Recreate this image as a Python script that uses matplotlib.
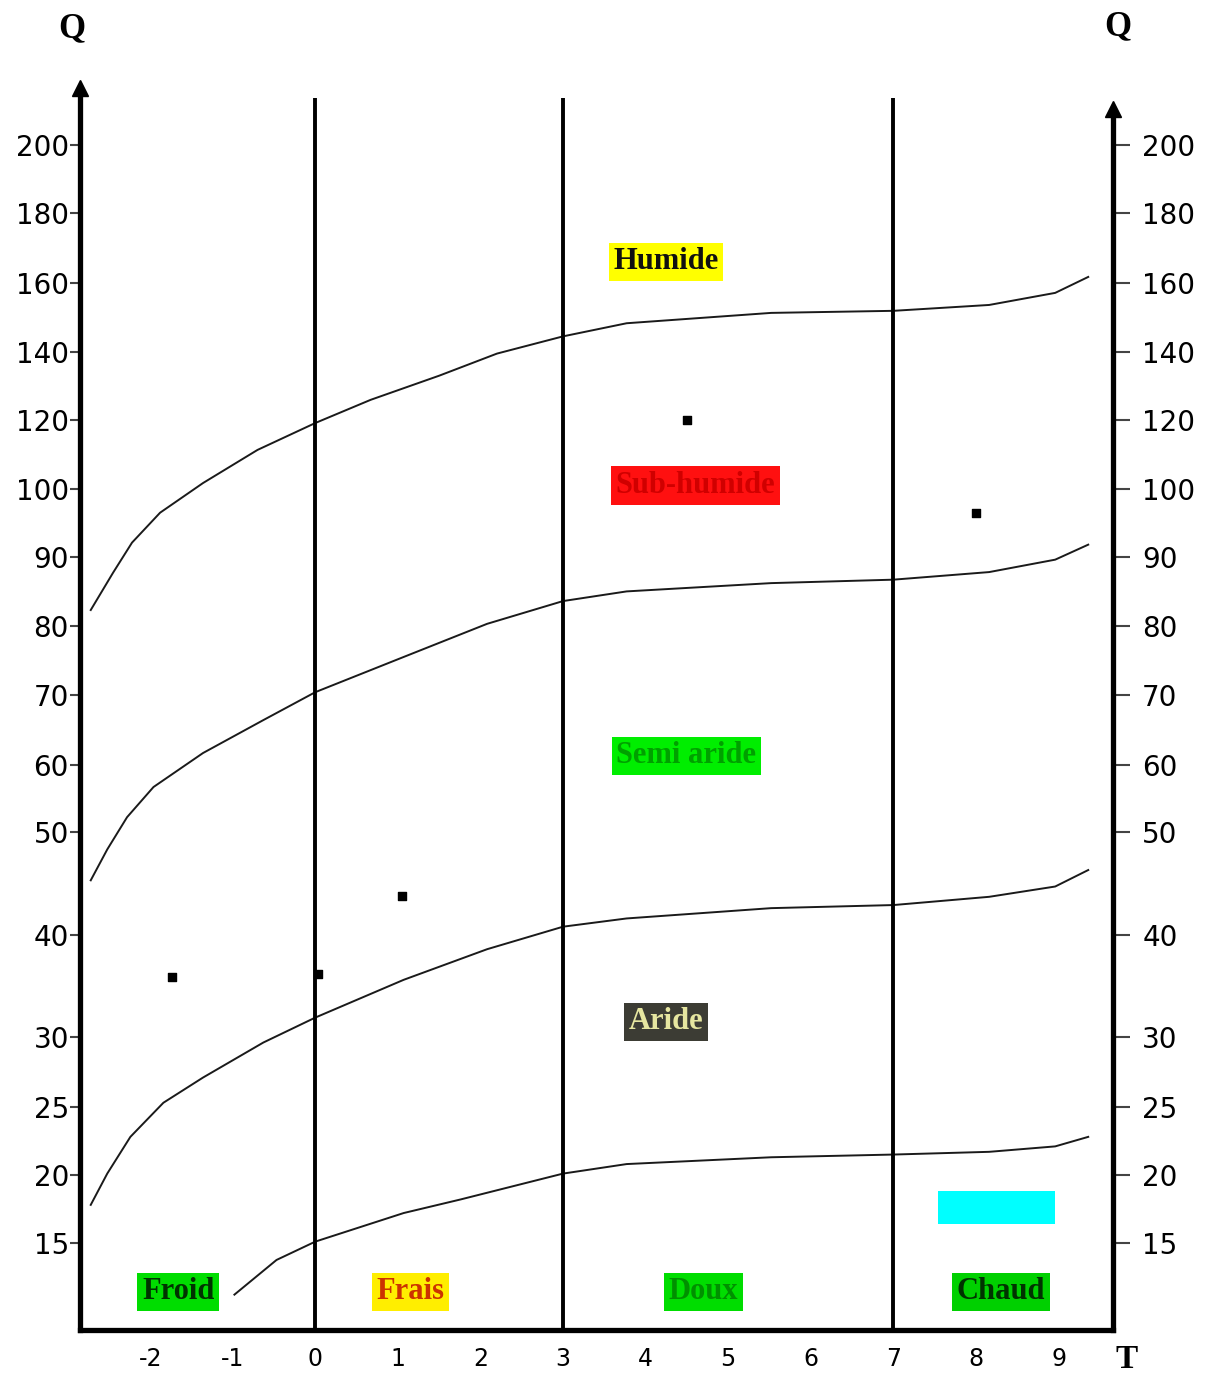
import numpy as np
import matplotlib
matplotlib.use("Agg")
import matplotlib.pyplot as plt

# Climagramme d'Emberger : quotient pluviothermique Q en fonction de T (m, °C)

q_ticks = [15, 20, 25, 30, 40, 50, 60, 70, 80, 90, 100, 120, 140, 160, 180, 200]
t_ticks = [-2, -1, 0, 1, 2, 3, 4, 5, 6, 7, 8, 9]
t_tick_labels = ["-2", "-1", "0", "1", "2", "3", "4", "5", "6", "7", "8", "9"]

# limites entre étages bioclimatiques
lim_humide_t = [-2.72, -2.45, -2.22, -1.88, -1.36, -0.70, 0.0, 0.67, 1.5, 2.2,
                3.0, 3.77, 5.52, 7.0, 8.16, 8.96, 9.36]
lim_humide_q = [82.3, 87.7, 92.1, 96.5, 101.7, 111.3, 119.1, 125.9, 133, 139.5,
                144.5, 148.3, 151.3, 151.9, 153.6, 157.1, 161.7]

lim_subhumide_t = [-2.72, -2.52, -2.28, -1.96, -1.36, -0.63, 0.0, 1.07, 2.08,
                   3.0, 3.77, 5.52, 7.0, 8.16, 8.96, 9.36]
lim_subhumide_q = [45.3, 48.3, 52.2, 56.7, 61.7, 66.4, 70.4, 75.5, 80.3,
                   83.6, 85.0, 86.2, 86.7, 87.8, 89.6, 91.8]

lim_semiaride_t = [-2.72, -2.52, -2.24, -1.84, -1.36, -0.63, 0.0, 1.07, 2.08,
                   3.0, 3.77, 5.52, 7.0, 8.16, 8.96, 9.36]
lim_semiaride_q = [17.8, 20.1, 22.8, 25.3, 27.1, 29.6, 31.9, 35.6, 38.6,
                   40.8, 41.6, 42.6, 42.9, 43.7, 44.7, 46.3]

lim_aride_t = [-0.98, -0.47, 0.0, 1.07, 1.76, 3.0, 3.77, 5.52, 7.0, 8.16, 8.96, 9.36]
lim_aride_q = [11.2, 13.75, 15.1, 17.2, 18.2, 20.1, 20.8, 21.3, 21.5, 21.7, 22.1, 22.8]

# limites des variantes thermiques
variantes_t = [0, 3, 7]

# stations
stations_t = [4.5, 8.0, 1.05, -1.74, 0.03]
stations_q = [120, 96.5, 43.8, 35.9, 36.2]

# étiquettes des étages
etages = ["Humide", "Sub-humide", "Semi aride", "Aride"]
etages_t = [4.25, 4.6, 4.49, 4.25]
etages_q = [166, 101, 61.3, 31.5]
etages_fond = ["#ffff00", "#ff1010", "#00ee00", "#3c3c34"]
etages_texte = ["#101010", "#d00000", "#00a000", "#e6e6a0"]

# étiquettes des variantes
variantes = ["Froid", "Frais", "Doux", "Chaud"]
variantes_lt = [-1.66, 1.15, 4.7, 8.3]
variantes_fond = ["#00dd00", "#ffee00", "#00dd00", "#00d000"]
variantes_texte = ["#003300", "#cc3300", "#009000", "#003300"]

# échelle de Q irrégulière (graduations non proportionnelles)
echelle_q = [0, 15, 20, 25, 30, 40, 50, 60, 70, 80, 90, 100, 120, 140, 160, 180, 200, 300]
echelle_px = [1447, 1243, 1175, 1107, 1037, 935, 832, 765, 695, 626, 557, 489,
              420, 352, 283, 213, 145, -200]
echelle_pos = [1330 - p for p in echelle_px]


def vers_echelle(q):
    return np.interp(q, echelle_q, echelle_pos)


def depuis_echelle(p):
    return np.interp(p, echelle_pos, echelle_q)


fig = plt.figure(figsize=(12.06, 13.74), dpi=100)
ax = fig.add_axes([80 / 1206, 44 / 1374, 1033 / 1206, 1250 / 1374])
ax.set_yscale("function", functions=(vers_echelle, depuis_echelle))
q_bas, q_haut = 8.6, 218.8
ax.set_ylim(q_bas, q_haut)
ax.set_xlim(-2.85, 9.66)

for t, q in [(lim_humide_t, lim_humide_q), (lim_subhumide_t, lim_subhumide_q),
             (lim_semiaride_t, lim_semiaride_q), (lim_aride_t, lim_aride_q)]:
    ax.plot(t, q, color="#1a1a1a", linewidth=1.4, zorder=2,
            solid_joinstyle="round")

ax.scatter(stations_t, stations_q, marker="s", s=36, color="black", zorder=2)
ax.vlines(variantes_t, q_bas, 213.5, color="black", linewidth=2.8, zorder=3)

for nom, t, q, fond, coul in zip(etages, etages_t, etages_q, etages_fond, etages_texte):
    ax.text(t, q, nom, ha="center", va="center", fontsize=22, fontweight="bold",
            family="Liberation Serif", color=coul, zorder=4,
            bbox=dict(boxstyle="square,pad=0.15", facecolor=fond, edgecolor="none"))

for nom, t, fond, coul in zip(variantes, variantes_lt, variantes_fond, variantes_texte):
    ax.text(t, 11.4, nom, ha="center", va="center", fontsize=22, fontweight="bold",
            family="Liberation Serif", color=coul, zorder=4,
            bbox=dict(boxstyle="square,pad=0.15", facecolor=fond, edgecolor="none"))

# case vide (cyan)
ax.text(8.25, 17.6, "\u2003" * 4, ha="center", va="center", fontsize=20,
        zorder=4, bbox=dict(boxstyle="square,pad=0.1", facecolor="#00ffff", edgecolor="none"))

# axes
for s in ["top", "right"]:
    ax.spines[s].set_visible(False)
ax.spines["left"].set_linewidth(3.8)
ax.spines["left"].set_bounds(q_bas, 215.5)
ax.spines["bottom"].set_linewidth(3.8)
ax.plot(0, 216.5, marker="^", markersize=11, color="black",
        transform=ax.get_yaxis_transform(), clip_on=False, zorder=5)

ax.set_xticks(t_ticks)
ax.set_xticklabels(t_tick_labels)
ax.tick_params(axis="x", length=0, pad=12, labelsize=17)
ax.set_yticks(q_ticks)
ax.set_yticklabels([str(v) for v in q_ticks])
ax.tick_params(axis="y", direction="out", length=7, width=1.5, pad=1, labelsize=20,
               color="#444444")
ax.minorticks_off()

ax2 = ax.twinx()
ax2.set_yscale("function", functions=(vers_echelle, depuis_echelle))
ax2.set_ylim(q_bas, q_haut)
for s in ["top", "left", "bottom"]:
    ax2.spines[s].set_visible(False)
ax2.spines["right"].set_linewidth(3.8)
ax2.spines["right"].set_bounds(q_bas, 210)
ax2.plot(1, 210.5, marker="^", markersize=11, color="black",
         transform=ax2.get_yaxis_transform(), clip_on=False, zorder=5)
ax2.set_yticks(q_ticks)
ax2.set_yticklabels([str(v) for v in q_ticks])
ax2.tick_params(axis="y", direction="out", length=12, width=1.5, pad=9, labelsize=20,
                color="#444444")
ax2.minorticks_off()

ax.text(-0.008, 1.041, "Q", transform=ax.transAxes, ha="center", va="center",
        fontsize=25, fontweight="bold", family="Liberation Serif")
ax.text(1.005, 1.043, "Q", transform=ax.transAxes, ha="center", va="center",
        fontsize=25, fontweight="bold", family="Liberation Serif")
ax.text(1.0135, -0.024, "T", transform=ax.transAxes, ha="center", va="center",
        fontsize=24, fontweight="bold", family="Liberation Serif")

fig.savefig("out.png", dpi=100)
